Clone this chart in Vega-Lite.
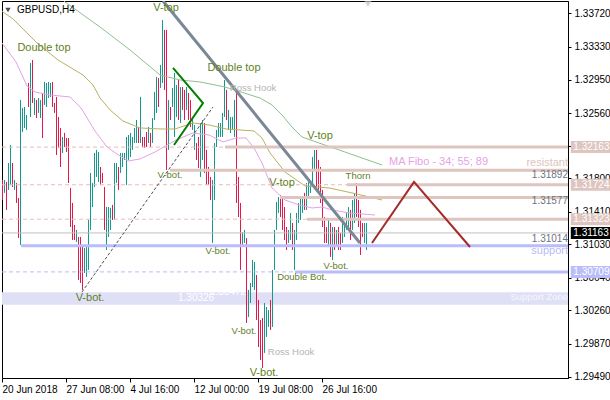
{
"$schema": "https://vega.github.io/schema/vega-lite/v6.json",
"width": 566, "height": 377,
"autosize": {"type": "none"},
"padding": {"left": 2, "top": 1, "right": 42, "bottom": 22},
"background": "white",
"config": {"view": {"stroke": "#000", "strokeWidth": 1}, "axis": {"grid": false, "domainColor": "#000", "tickColor": "#000", "labelColor": "#000", "labelFont": "Liberation Sans", "labelFontSize": 10}, "text": {"font": "Liberation Sans"}},
"datasets": {
"bars": [
{"bar":0,"high":1.31780,"low":1.31547,"dir":"down"},{"bar":1,"high":1.31780,"low":1.31629,"dir":"up"},{"bar":2,"high":1.31757,"low":1.31431,"dir":"down"},{"bar":3,"high":1.31978,"low":1.31664,"dir":"up"},{"bar":4,"high":1.32188,"low":1.31722,"dir":"up"},{"bar":5,"high":1.31978,"low":1.31698,"dir":"down"},{"bar":6,"high":1.31780,"low":1.31664,"dir":"up"},{"bar":7,"high":1.31745,"low":1.31512,"dir":"down"},{"bar":8,"high":1.31570,"low":1.31104,"dir":"down"},{"bar":9,"high":1.32712,"low":1.31023,"dir":"up"},
{"bar":10,"high":1.32619,"low":1.32339,"dir":"up"},{"bar":11,"high":1.32630,"low":1.32386,"dir":"up"},{"bar":12,"high":1.32537,"low":1.32363,"dir":"up"},{"bar":13,"high":1.32910,"low":1.32630,"dir":"down"},{"bar":14,"high":1.33143,"low":1.32514,"dir":"up"},{"bar":15,"high":1.33178,"low":1.32677,"dir":"down"},{"bar":16,"high":1.32735,"low":1.32537,"dir":"up"},{"bar":17,"high":1.32712,"low":1.32502,"dir":"down"},{"bar":18,"high":1.32735,"low":1.32561,"dir":"up"},{"bar":19,"high":1.32712,"low":1.32502,"dir":"up"},
{"bar":20,"high":1.32794,"low":1.32269,"dir":"down"},{"bar":21,"high":1.32922,"low":1.32654,"dir":"up"},{"bar":22,"high":1.32910,"low":1.32630,"dir":"up"},{"bar":23,"high":1.32922,"low":1.32735,"dir":"up"},{"bar":24,"high":1.32910,"low":1.32747,"dir":"up"},{"bar":25,"high":1.32922,"low":1.32630,"dir":"down"},{"bar":26,"high":1.32677,"low":1.32561,"dir":"down"},{"bar":27,"high":1.32747,"low":1.32071,"dir":"down"},{"bar":28,"high":1.32514,"low":1.32153,"dir":"down"},{"bar":29,"high":1.32386,"low":1.31931,"dir":"down"},
{"bar":30,"high":1.32281,"low":1.32095,"dir":"up"},{"bar":31,"high":1.32328,"low":1.32164,"dir":"down"},{"bar":32,"high":1.32269,"low":1.32106,"dir":"down"},{"bar":33,"high":1.32269,"low":1.31745,"dir":"down"},{"bar":34,"high":1.31687,"low":1.31232,"dir":"down"},{"bar":35,"high":1.31512,"low":1.31081,"dir":"down"},{"bar":36,"high":1.31256,"low":1.31081,"dir":"down"},{"bar":37,"high":1.31198,"low":1.31058,"dir":"up"},{"bar":38,"high":1.31116,"low":1.30615,"dir":"down"},{"bar":39,"high":1.31116,"low":1.30580,"dir":"down"},
{"bar":40,"high":1.30999,"low":1.30499,"dir":"down"},{"bar":41,"high":1.30988,"low":1.30697,"dir":"up"},{"bar":42,"high":1.30999,"low":1.30650,"dir":"up"},{"bar":43,"high":1.31314,"low":1.30732,"dir":"up"},{"bar":44,"high":1.31862,"low":1.31198,"dir":"up"},{"bar":45,"high":1.31745,"low":1.31465,"dir":"up"},{"bar":46,"high":1.32095,"low":1.31698,"dir":"up"},{"bar":47,"high":1.32130,"low":1.31815,"dir":"up"},{"bar":48,"high":1.32106,"low":1.31757,"dir":"up"},{"bar":49,"high":1.31931,"low":1.31722,"dir":"down"},
{"bar":50,"high":1.31862,"low":1.31745,"dir":"down"},{"bar":51,"high":1.31698,"low":1.31198,"dir":"down"},{"bar":52,"high":1.31465,"low":1.30965,"dir":"up"},{"bar":53,"high":1.31465,"low":1.31116,"dir":"up"},{"bar":54,"high":1.31454,"low":1.31198,"dir":"up"},{"bar":55,"high":1.31489,"low":1.31314,"dir":"down"},{"bar":56,"high":1.31978,"low":1.31314,"dir":"up"},{"bar":57,"high":1.31978,"low":1.31745,"dir":"up"},{"bar":58,"high":1.31931,"low":1.31664,"dir":"down"},{"bar":59,"high":1.32095,"low":1.31862,"dir":"up"},
{"bar":60,"high":1.32095,"low":1.31931,"dir":"up"},{"bar":61,"high":1.32095,"low":1.32013,"dir":"up"},{"bar":62,"high":1.32281,"low":1.31722,"dir":"up"},{"bar":63,"high":1.32304,"low":1.32013,"dir":"up"},{"bar":64,"high":1.32328,"low":1.32048,"dir":"up"},{"bar":65,"high":1.32281,"low":1.32130,"dir":"up"},{"bar":66,"high":1.32386,"low":1.32211,"dir":"up"},{"bar":67,"high":1.32479,"low":1.32211,"dir":"up"},{"bar":68,"high":1.32397,"low":1.32211,"dir":"down"},{"bar":69,"high":1.32747,"low":1.32211,"dir":"up"},
{"bar":70,"high":1.32281,"low":1.32164,"dir":"down"},{"bar":71,"high":1.32281,"low":1.32153,"dir":"down"},{"bar":72,"high":1.32339,"low":1.32164,"dir":"down"},{"bar":73,"high":1.32397,"low":1.32211,"dir":"up"},{"bar":74,"high":1.32328,"low":1.32164,"dir":"down"},{"bar":75,"high":1.32502,"low":1.32211,"dir":"up"},{"bar":76,"high":1.32805,"low":1.32479,"dir":"up"},{"bar":77,"high":1.32980,"low":1.32561,"dir":"up"},{"bar":78,"high":1.32968,"low":1.32630,"dir":"down"},{"bar":79,"high":1.33120,"low":1.32852,"dir":"up"},
{"bar":80,"high":1.33644,"low":1.32910,"dir":"up"},{"bar":81,"high":1.33528,"low":1.32829,"dir":"down"},{"bar":82,"high":1.33528,"low":1.31897,"dir":"down"},{"bar":83,"high":1.32712,"low":1.32130,"dir":"up"},{"bar":84,"high":1.32630,"low":1.32479,"dir":"down"},{"bar":85,"high":1.32852,"low":1.32630,"dir":"up"},{"bar":86,"high":1.33027,"low":1.32281,"dir":"up"},{"bar":87,"high":1.32887,"low":1.32514,"dir":"up"},{"bar":88,"high":1.32945,"low":1.32479,"dir":"down"},{"bar":89,"high":1.32863,"low":1.32444,"dir":"up"},
{"bar":90,"high":1.32863,"low":1.32596,"dir":"down"},{"bar":91,"high":1.32829,"low":1.32479,"dir":"down"},{"bar":92,"high":1.32863,"low":1.32596,"dir":"up"},{"bar":93,"high":1.32794,"low":1.32479,"dir":"down"},{"bar":94,"high":1.32712,"low":1.32397,"dir":"down"},{"bar":95,"high":1.32514,"low":1.32363,"dir":"up"},{"bar":96,"high":1.32421,"low":1.32130,"dir":"up"},{"bar":97,"high":1.32211,"low":1.32013,"dir":"down"},{"bar":98,"high":1.32281,"low":1.31920,"dir":"down"},{"bar":99,"high":1.32444,"low":1.31815,"dir":"up"},
{"bar":100,"high":1.32479,"low":1.32013,"dir":"up"},{"bar":101,"high":1.32444,"low":1.31862,"dir":"down"},{"bar":102,"high":1.32130,"low":1.31722,"dir":"down"},{"bar":103,"high":1.31931,"low":1.31722,"dir":"down"},{"bar":104,"high":1.31815,"low":1.31547,"dir":"down"},{"bar":105,"high":1.31780,"low":1.31046,"dir":"up"},{"bar":106,"high":1.32211,"low":1.31547,"dir":"up"},{"bar":107,"high":1.32363,"low":1.32164,"dir":"up"},{"bar":108,"high":1.32444,"low":1.32281,"dir":"up"},{"bar":109,"high":1.32444,"low":1.32281,"dir":"up"},
{"bar":110,"high":1.32561,"low":1.32281,"dir":"up"},{"bar":111,"high":1.32945,"low":1.32514,"dir":"up"},{"bar":112,"high":1.32829,"low":1.32479,"dir":"down"},{"bar":113,"high":1.32596,"low":1.32363,"dir":"up"},{"bar":114,"high":1.32514,"low":1.32328,"dir":"up"},{"bar":115,"high":1.32514,"low":1.32363,"dir":"up"},{"bar":116,"high":1.32712,"low":1.32281,"dir":"up"},{"bar":117,"high":1.32805,"low":1.31512,"dir":"down"},{"bar":118,"high":1.31815,"low":1.31349,"dir":"down"},{"bar":119,"high":1.31512,"low":1.30732,"dir":"down"},
{"bar":120,"high":1.31174,"low":1.30999,"dir":"up"},{"bar":121,"high":1.31198,"low":1.31046,"dir":"up"},{"bar":122,"high":1.31104,"low":1.30114,"dir":"down"},{"bar":123,"high":1.30499,"low":1.30184,"dir":"up"},{"bar":124,"high":1.30580,"low":1.30347,"dir":"up"},{"bar":125,"high":1.30848,"low":1.30533,"dir":"up"},{"bar":126,"high":1.30825,"low":1.30499,"dir":"up"},{"bar":127,"high":1.30673,"low":1.30149,"dir":"down"},{"bar":128,"high":1.30382,"low":1.29834,"dir":"down"},{"bar":129,"high":1.30149,"low":1.29683,"dir":"down"},
{"bar":130,"high":1.30172,"low":1.29590,"dir":"down"},{"bar":131,"high":1.30347,"low":1.29765,"dir":"up"},{"bar":132,"high":1.30300,"low":1.29951,"dir":"up"},{"bar":133,"high":1.30266,"low":1.30068,"dir":"up"},{"bar":134,"high":1.30382,"low":1.30033,"dir":"down"},{"bar":135,"high":1.30732,"low":1.30068,"dir":"up"},{"bar":136,"high":1.31198,"low":1.30732,"dir":"up"},{"bar":137,"high":1.31524,"low":1.31198,"dir":"up"},{"bar":138,"high":1.31582,"low":1.31396,"dir":"up"},{"bar":139,"high":1.31605,"low":1.31349,"dir":"down"},
{"bar":140,"high":1.31582,"low":1.31198,"dir":"down"},{"bar":141,"high":1.31465,"low":1.31081,"dir":"down"},{"bar":142,"high":1.31232,"low":1.30965,"dir":"down"},{"bar":143,"high":1.31198,"low":1.31046,"dir":"up"},{"bar":144,"high":1.31396,"low":1.31081,"dir":"up"},{"bar":145,"high":1.31279,"low":1.30965,"dir":"down"},{"bar":146,"high":1.31198,"low":1.30732,"dir":"up"},{"bar":147,"high":1.31396,"low":1.31081,"dir":"up"},{"bar":148,"high":1.31512,"low":1.31279,"dir":"up"},{"bar":149,"high":1.31582,"low":1.31314,"dir":"up"},
{"bar":150,"high":1.31582,"low":1.31396,"dir":"up"},{"bar":151,"high":1.31629,"low":1.31431,"dir":"down"},{"bar":152,"high":1.31745,"low":1.31431,"dir":"up"},{"bar":153,"high":1.31780,"low":1.31582,"dir":"up"},{"bar":154,"high":1.31745,"low":1.31629,"dir":"up"},{"bar":155,"high":1.32048,"low":1.31745,"dir":"up"},{"bar":156,"high":1.32130,"low":1.31897,"dir":"up"},{"bar":157,"high":1.32130,"low":1.31698,"dir":"down"},{"bar":158,"high":1.32013,"low":1.31664,"dir":"down"},{"bar":159,"high":1.31931,"low":1.31512,"dir":"down"},
{"bar":160,"high":1.31664,"low":1.31232,"dir":"down"},{"bar":161,"high":1.31349,"low":1.31046,"dir":"down"},{"bar":162,"high":1.31232,"low":1.31046,"dir":"down"},{"bar":163,"high":1.31314,"low":1.30999,"dir":"up"},{"bar":164,"high":1.31279,"low":1.30883,"dir":"down"},{"bar":165,"high":1.31232,"low":1.30848,"dir":"up"},{"bar":166,"high":1.31232,"low":1.30965,"dir":"down"},{"bar":167,"high":1.31198,"low":1.30999,"dir":"up"},{"bar":168,"high":1.31232,"low":1.30965,"dir":"down"},{"bar":169,"high":1.31163,"low":1.30965,"dir":"down"},
{"bar":170,"high":1.31349,"low":1.31046,"dir":"up"},{"bar":171,"high":1.31279,"low":1.31116,"dir":"up"},{"bar":172,"high":1.31396,"low":1.31198,"dir":"up"},{"bar":173,"high":1.31465,"low":1.31232,"dir":"up"},{"bar":174,"high":1.31431,"low":1.31081,"dir":"down"},{"bar":175,"high":1.31547,"low":1.31198,"dir":"up"},{"bar":176,"high":1.31629,"low":1.31279,"dir":"up"},{"bar":177,"high":1.31745,"low":1.31349,"dir":"down"},{"bar":178,"high":1.31547,"low":1.31232,"dir":"down"},{"bar":179,"high":1.31431,"low":1.30906,"dir":"down"},
{"bar":180,"high":1.31279,"low":1.31116,"dir":"down"},{"bar":181,"high":1.31279,"low":1.31046,"dir":"up"},{"bar":182,"high":1.31279,"low":1.30965,"dir":"up"}
],
"ma34": [{"bar":0,"price":1.33376},{"bar":7,"price":1.33155},{"bar":12.5,"price":1.32875},{"bar":16.5,"price":1.32805},{"bar":24,"price":1.3277},{"bar":34,"price":1.32747},{"bar":39.5,"price":1.32619},{"bar":46.5,"price":1.32351},{"bar":52.5,"price":1.32164},{"bar":57.5,"price":1.32083},{"bar":63,"price":1.32001},{"bar":69,"price":1.32025},{"bar":76.5,"price":1.32106},{"bar":87,"price":1.32246},{"bar":95.5,"price":1.32328},{"bar":103.5,"price":1.32304},{"bar":110.5,"price":1.32223},{"bar":117,"price":1.32269},{"bar":122,"price":1.32269},{"bar":126,"price":1.32153},{"bar":130,"price":1.31978},{"bar":135,"price":1.31687},{"bar":141.5,"price":1.31547},{"bar":148.5,"price":1.31489},{"bar":155,"price":1.31454},{"bar":160,"price":1.31465},{"bar":165,"price":1.31431},{"bar":173.5,"price":1.31396},{"bar":186.5,"price":1.31372}],
"ma55": [{"bar":-1,"price":1.33761},{"bar":5.5,"price":1.33656},{"bar":17.5,"price":1.33376},{"bar":28,"price":1.33178},{"bar":40.5,"price":1.33003},{"bar":45.5,"price":1.32887},{"bar":49,"price":1.32735},{"bar":54,"price":1.32596},{"bar":60.5,"price":1.32467},{"bar":69,"price":1.32386},{"bar":79,"price":1.32374},{"bar":86.5,"price":1.32374},{"bar":95.5,"price":1.32444},{"bar":103.5,"price":1.32421},{"bar":112,"price":1.32374},{"bar":126,"price":1.32351},{"bar":130,"price":1.32269},{"bar":134,"price":1.32095},{"bar":141.5,"price":1.31873},{"bar":151.5,"price":1.3171},{"bar":163.5,"price":1.31687},{"bar":175,"price":1.31629},{"bar":190,"price":1.31547}],
"ma89": [{"bar":29,"price":1.33912},{"bar":31.5,"price":1.33854},{"bar":49,"price":1.33562},{"bar":64,"price":1.33295},{"bar":79,"price":1.33003},{"bar":89,"price":1.32945},{"bar":99,"price":1.32922},{"bar":111.5,"price":1.32863},{"bar":129,"price":1.32735},{"bar":135,"price":1.32654},{"bar":140,"price":1.32537},{"bar":145,"price":1.32397},{"bar":150,"price":1.32281},{"bar":158.5,"price":1.32211},{"bar":168.5,"price":1.3213},{"bar":180,"price":1.32036},{"bar":190,"price":1.31955}],
"zone": [{"bar":0,"end":283,"price":1.30326,"top":1.30472}],
"levels": [
{"bar":0,"end":111.5,"price":1.32163,"kind":"resDash"},{"bar":111.5,"end":283,"price":1.32163,"kind":"res"},
{"bar":84,"end":283,"price":1.31892,"kind":"res"},
{"bar":0,"end":172.5,"price":1.31724,"kind":"resDash"},{"bar":172.5,"end":283,"price":1.31724,"kind":"res"},
{"bar":139,"end":283,"price":1.31577,"kind":"res"},
{"bar":0,"end":152.5,"price":1.31323,"kind":"resDash"},{"bar":152.5,"end":283,"price":1.31323,"kind":"res"},
{"bar":0,"end":283,"price":1.31163,"kind":"current"},
{"bar":9.5,"end":283,"price":1.31014,"kind":"sup"},
{"bar":0,"end":146.5,"price":1.30709,"kind":"supDash"},{"bar":146.5,"end":283,"price":1.30709,"kind":"sup"}
],
"trend": [
{"line":"gray","seq":1,"bar":80.5,"price":1.33865},{"line":"gray","seq":2,"bar":179,"price":1.31046},
{"line":"dash","seq":1,"bar":40,"price":1.30475},{"line":"dash","seq":2,"bar":105.5,"price":1.3263},
{"line":"green","seq":1,"bar":85.5,"price":1.33085},{"line":"green","seq":2,"bar":100.5,"price":1.32677},{"line":"green","seq":3,"bar":86,"price":1.32188},
{"line":"zig","seq":1,"bar":185,"price":1.31046},{"line":"zig","seq":2,"bar":206,"price":1.31757},{"line":"zig","seq":3,"bar":234,"price":1.30999}
],
"notes": [
{"label":"Double top","bar":21,"price":1.33318,"kind":"major"},
{"label":"V-top","bar":82,"price":1.33784,"kind":"major"},
{"label":"Double top","bar":116,"price":1.33085,"kind":"major"},
{"label":"V-top","bar":159,"price":1.32293,"kind":"major"},
{"label":"V-top","bar":140,"price":1.31745,"kind":"major"},
{"label":"V-bot.","bar":44,"price":1.30405,"kind":"major"},
{"label":"V-bot.","bar":131,"price":1.29532,"kind":"major"},
{"label":"Thorn","bar":178,"price":1.31827,"kind":"minor"},
{"label":"V-bot.","bar":84,"price":1.31838,"kind":"minor"},
{"label":"V-bot.","bar":108,"price":1.30953,"kind":"minor"},
{"label":"V-bot.","bar":167,"price":1.30778,"kind":"minor"},
{"label":"Double Bot.","bar":150,"price":1.3065,"kind":"minor"},
{"label":"V-bot.","bar":121,"price":1.30021,"kind":"minor"},
{"label":"Ross Hook","bar":125.5,"price":1.32852,"kind":"hook"},
{"label":"Ross Hook","bar":144.5,"price":1.29776,"kind":"hook"}
],
"side": [
{"label":"resistant","bar":283,"price":1.31972,"kind":"res"},
{"label":"support","bar":283,"price":1.30953,"kind":"sup"},
{"label":"Support Zone","bar":283,"price":1.30411,"kind":"zone"},
{"label":"1.31892","bar":283,"price":1.31838,"kind":"gray"},
{"label":"1.31577","bar":283,"price":1.31535,"kind":"gray"},
{"label":"1.31014","bar":283,"price":1.31093,"kind":"gray"}
],
"left": [
{"label":"MA Fibo - 34; 55; 89","bar":193.5,"price":1.31985,"kind":"ma"},
{"label":"1.30326","bar":88,"price":1.30405,"kind":"zone"},
{"label":"1.30472","bar":104,"price":1.30475,"kind":"zone"},
{"label":"GBPUSD,H4","bar":7.5,"price":1.33761,"kind":"title"}
],
"tags": [
{"label":"1.32163","bar":284.4,"end":304,"price":1.32163,"kind":"res"},
{"label":"1.31724","bar":284.4,"end":304,"price":1.31724,"kind":"res"},
{"label":"1.31323","bar":284.4,"end":304,"price":1.31323,"kind":"res"},
{"label":"1.31163","bar":284.4,"end":304,"price":1.31163,"kind":"cur"},
{"label":"1.30709","bar":284.4,"end":304,"price":1.30709,"kind":"sup"}
],
"marks": [
{"bar":3,"price":1.33761,"kind":"menu"},
{"bar":183,"price":1.3383,"kind":"shift"}
]
},
"encoding": {
"x": {"field":"bar","type":"quantitative","title":null,"scale":{"domain":[0,283],"nice":false,"zero":false},
 "axis":{"values":[0,32,64,96,128,160],"labelExpr":"datum.value==0?'20 Jun 2018':datum.value==32?'27 Jun 08:00':datum.value==64?'4 Jul 16:00':datum.value==96?'12 Jul 00:00':datum.value==128?'19 Jul 08:00':'26 Jul 16:00'","labelAlign":"left","labelFlush":false,"labelOverlap":false,"tickSize":4,"labelPadding":2}},
"y": {"field":"price","type":"quantitative","title":null,"scale":{"domain":[1.29473,1.33865],"nice":false,"zero":false},
 "axis":{"orient":"right","values":[1.3372,1.3333,1.3295,1.3256,1.3218,1.318,1.3141,1.3103,1.3064,1.3026,1.2987,1.2949],"format":".5f","tickSize":3,"labelPadding":3,"labelAlign":"left","labelOverlap":false,"labelFlush":false,"labelBound":false}}
},
"layer": [
{"data":{"name":"zone"},"mark":{"type":"rect","color":"#dfe0f6"},"encoding":{"x2":{"field":"end"},"y2":{"field":"top"}}},
{"data":{"name":"bars"},"mark":{"type":"rule","strokeWidth":1,"xOffset":0.5},"encoding":{"y":{"field":"high","type":"quantitative","title":null,"scale":{"domain":[1.29473,1.33865],"nice":false,"zero":false}},"y2":{"field":"low"},"color":{"field":"dir","type":"nominal","scale":{"domain":["up","down"],"range":["#139a8d","#e4184b"]},"legend":null}}},
{"data":{"name":"ma89"},"mark":{"type":"line","color":"#8fc08f","strokeWidth":1,"clip":true},"encoding":{}},
{"data":{"name":"ma55"},"mark":{"type":"line","color":"#bab062","strokeWidth":1,"clip":true},"encoding":{}},
{"data":{"name":"ma34"},"mark":{"type":"line","color":"#e3a2e3","strokeWidth":1,"clip":true},"encoding":{}},
{"data":{"name":"levels"},"transform":[{"filter":"datum.kind=='resDash'"}],"mark":{"type":"rule","color":"#e8bdb8","strokeWidth":1,"strokeDash":[4,3]},"encoding":{"x2":{"field":"end"}}},
{"data":{"name":"levels"},"transform":[{"filter":"datum.kind=='supDash'"}],"mark":{"type":"rule","color":"#b9bdf9","strokeWidth":1,"strokeDash":[4,3]},"encoding":{"x2":{"field":"end"}}},
{"data":{"name":"levels"},"transform":[{"filter":"datum.kind=='current'"}],"mark":{"type":"rule","color":"#c0c0c0","strokeWidth":1},"encoding":{"x2":{"field":"end"}}},
{"data":{"name":"levels"},"transform":[{"filter":"datum.kind=='res'"}],"mark":{"type":"rule","color":"#dec5bf","strokeWidth":3},"encoding":{"x2":{"field":"end"}}},
{"data":{"name":"levels"},"transform":[{"filter":"datum.kind=='sup'"}],"mark":{"type":"rule","color":"#b9bdf9","strokeWidth":3},"encoding":{"x2":{"field":"end"}}},
{"data":{"name":"trend"},"transform":[{"filter":"datum.line=='dash'"}],"mark":{"type":"line","color":"#505050","strokeWidth":1,"strokeDash":[3,2],"clip":true},"encoding":{"order":{"field":"seq","type":"quantitative"}}},
{"data":{"name":"trend"},"transform":[{"filter":"datum.line=='gray'"}],"mark":{"type":"line","color":"#7a8797","strokeWidth":3,"clip":true},"encoding":{"order":{"field":"seq","type":"quantitative"}}},
{"data":{"name":"trend"},"transform":[{"filter":"datum.line=='green'"}],"mark":{"type":"line","color":"#008000","strokeWidth":2,"clip":true},"encoding":{"order":{"field":"seq","type":"quantitative"}}},
{"data":{"name":"trend"},"transform":[{"filter":"datum.line=='zig'"}],"mark":{"type":"line","color":"#a52a2a","strokeWidth":2,"clip":true},"encoding":{"order":{"field":"seq","type":"quantitative"}}},
{"data":{"name":"notes"},"transform":[{"filter":"datum.kind=='major'"}],"mark":{"type":"text","fontSize":11,"color":"#5f7f24","align":"center","baseline":"middle"},"encoding":{"text":{"field":"label"}}},
{"data":{"name":"notes"},"transform":[{"filter":"datum.kind=='minor'"}],"mark":{"type":"text","fontSize":9.5,"color":"#5f7f24","align":"center","baseline":"middle"},"encoding":{"text":{"field":"label"}}},
{"data":{"name":"notes"},"transform":[{"filter":"datum.kind=='hook'"}],"mark":{"type":"text","fontSize":9.5,"color":"#b4b4b4","align":"center","baseline":"middle"},"encoding":{"text":{"field":"label"}}},
{"data":{"name":"side"},"transform":[{"filter":"datum.kind=='res'"}],"mark":{"type":"text","fontSize":11,"color":"#dcc4bc","align":"right","baseline":"middle"},"encoding":{"text":{"field":"label"}}},
{"data":{"name":"side"},"transform":[{"filter":"datum.kind=='sup'"}],"mark":{"type":"text","fontSize":11,"color":"#b8bcf4","align":"right","baseline":"middle"},"encoding":{"text":{"field":"label"}}},
{"data":{"name":"side"},"transform":[{"filter":"datum.kind=='zone'"}],"mark":{"type":"text","fontSize":9.5,"color":"#f6f6fd","align":"right","baseline":"middle"},"encoding":{"text":{"field":"label"}}},
{"data":{"name":"side"},"transform":[{"filter":"datum.kind=='gray'"}],"mark":{"type":"text","fontSize":10,"color":"#6e7480","align":"right","baseline":"middle"},"encoding":{"text":{"field":"label"}}},
{"data":{"name":"left"},"transform":[{"filter":"datum.kind=='ma'"}],"mark":{"type":"text","fontSize":11,"color":"#e6a3e6","align":"left","baseline":"middle"},"encoding":{"text":{"field":"label"}}},
{"data":{"name":"left"},"transform":[{"filter":"datum.kind=='zone'"}],"mark":{"type":"text","fontSize":10,"color":"#ffffff","align":"left","baseline":"middle"},"encoding":{"text":{"field":"label"}}},
{"data":{"name":"left"},"transform":[{"filter":"datum.kind=='title'"}],"mark":{"type":"text","fontSize":10,"color":"#000000","align":"left","baseline":"middle"},"encoding":{"text":{"field":"label"}}},
{"data":{"name":"marks"},"transform":[{"filter":"datum.kind=='menu'"}],"mark":{"type":"point","shape":"triangle-down","filled":true,"size":28,"color":"#000000"},"encoding":{}},
{"data":{"name":"marks"},"transform":[{"filter":"datum.kind=='shift'"}],"mark":{"type":"point","shape":"triangle-down","filled":true,"size":50,"color":"#c4c4c4"},"encoding":{}},
{"data":{"name":"tags"},"transform":[{"filter":"datum.kind=='res'"}],"mark":{"type":"rule","color":"#dec5bf","strokeWidth":12},"encoding":{"x2":{"field":"end"}}},
{"data":{"name":"tags"},"transform":[{"filter":"datum.kind=='cur'"}],"mark":{"type":"rule","color":"#000000","strokeWidth":12},"encoding":{"x2":{"field":"end"}}},
{"data":{"name":"tags"},"transform":[{"filter":"datum.kind=='sup'"}],"mark":{"type":"rule","color":"#b9bdf9","strokeWidth":12},"encoding":{"x2":{"field":"end"}}},
{"data":{"name":"tags"},"mark":{"type":"text","fontSize":10,"color":"#ffffff","align":"left","baseline":"middle","dx":2.5},"encoding":{"text":{"field":"label"}}}
]
}
